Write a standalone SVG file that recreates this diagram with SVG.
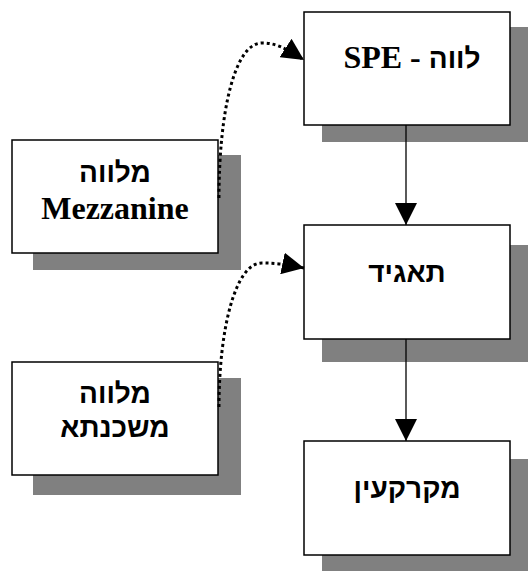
<svg xmlns="http://www.w3.org/2000/svg" width="528" height="571" viewBox="0 0 528 571">
<style>
.shadow{fill:#808080;stroke:none}
.box{fill:#fff;stroke:#000;stroke-width:1.5}
.t{font-family:"Liberation Serif","DejaVu Serif",serif;font-weight:bold;font-size:32px;fill:#000;text-anchor:middle}
.h{font-family:"Liberation Sans","DejaVu Sans",sans-serif;font-weight:bold;font-size:28px}
.solid{fill:none;stroke:#000;stroke-width:1.3}
.dot{fill:none;stroke:#000;stroke-width:3;stroke-dasharray:3 3}
</style>
<defs>
<marker id="ah" markerUnits="userSpaceOnUse" markerWidth="22" markerHeight="22" viewBox="0 0 20 20" refX="20" refY="10" orient="auto">
<path d="M0,0 L20,10 L0,20 Z" fill="#000"/>
</marker>
</defs>
<g id="node-spe">
<rect class="shadow" x="322" y="27" width="206" height="115"/>
<rect class="box" x="304" y="12" width="206" height="113"/>
<text class="t" x="412" y="68">SPE - <tspan class="h">לווה</tspan></text>
</g>
<g id="node-mezzanine">
<rect class="shadow" x="33" y="155" width="208" height="115"/>
<rect class="box" x="12" y="140" width="206" height="113"/>
<text class="t h" x="115" y="182">מלווה</text>
<text class="t" x="115" y="219">Mezzanine</text>
</g>
<g id="node-taagid">
<rect class="shadow" x="322" y="245" width="206" height="117"/>
<rect class="box" x="304" y="225" width="206" height="114"/>
<text class="t h" x="407" y="282">תאגיד</text>
</g>
<g id="node-mashkanta">
<rect class="shadow" x="33" y="378" width="208" height="117"/>
<rect class="box" x="12" y="362" width="206" height="113"/>
<text class="t h" x="115" y="403">מלווה</text>
<text class="t h" x="115" y="437">משכנתא</text>
</g>
<g id="node-mekarkein">
<rect class="shadow" x="322" y="459" width="206" height="112"/>
<rect class="box" x="304" y="441" width="206" height="114"/>
<text class="t h" x="407" y="498">מקרקעין</text>
</g>
<g id="connectors">
<path class="solid" d="M406,125 L406,225" marker-end="url(#ah)"/>
<path class="solid" d="M406,339 L406,441" marker-end="url(#ah)"/>
<path class="dot" d="M219,198 C219,110 235,43 262,43 C275,43 284,47 304,60" marker-end="url(#ah)"/>
<path class="dot" d="M219,407 C219,330 235,263 262,263 C275,263 285,264 304,268" marker-end="url(#ah)"/>
</g>
</svg>
